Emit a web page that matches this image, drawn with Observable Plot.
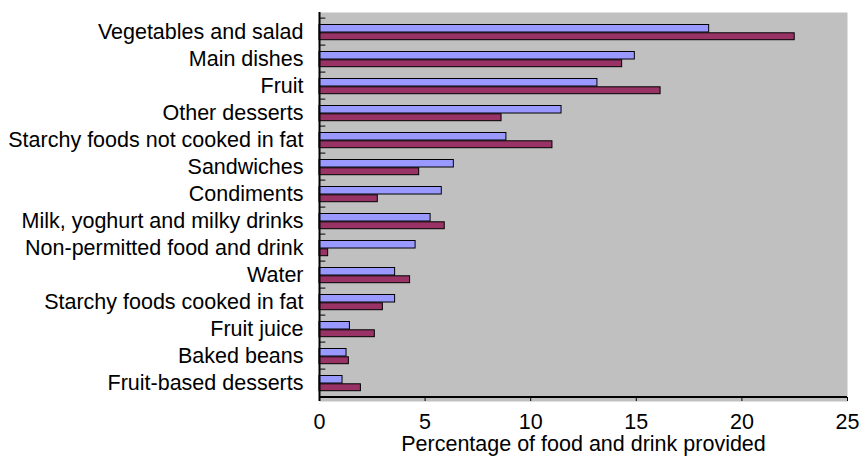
<!DOCTYPE html>
<html>
<head>
<meta charset="utf-8">
<script src="https://cdn.jsdelivr.net/npm/d3@7"></script>
<script src="https://cdn.jsdelivr.net/npm/@observablehq/plot@0.6"></script>
<style>
  html, body { margin: 0; padding: 0; background: #fff; }
  #chart svg { display: block; }
</style>
</head>
<body>
<div id="chart"></div>
<script>
const categories = [
  "Vegetables and salad",
  "Main dishes",
  "Fruit",
  "Other desserts",
  "Starchy foods not cooked in fat",
  "Sandwiches",
  "Condiments",
  "Milk, yoghurt and milky drinks",
  "Non-permitted food and drink",
  "Water",
  "Starchy foods cooked in fat",
  "Fruit juice",
  "Baked beans",
  "Fruit-based desserts"
];
const series1 = [18.45, 14.93, 13.16, 11.46, 8.85, 6.36, 5.79, 5.26, 4.55, 3.58, 3.58, 1.44, 1.28, 1.09];
const series2 = [22.5, 14.33, 16.15, 8.62, 11.03, 4.72, 2.76, 5.93, 0.41, 4.29, 3.0, 2.62, 1.39, 1.96];
const xTicks = [0, 5, 10, 15, 20, 25];

const rows1 = categories.map((c, i) => ({category: c, value: series1[i]}));
const rows2 = categories.map((c, i) => ({category: c, value: series2[i]}));

const bandH = (456 - 12 - 55) / categories.length;

const chart = Plot.plot({
  width: 859,
  height: 456,
  marginLeft: 319,
  marginRight: 12,
  marginTop: 12,
  marginBottom: 55,
  style: {fontFamily: "'Liberation Sans', Arial, sans-serif", fontSize: "21.5px", color: "#000", background: "#fff"},
  x: {domain: [0, 25]},
  y: {domain: categories, padding: 0},
  marks: [
    Plot.frame({fill: "#c0c0c0", stroke: "none"}),
    Plot.barX(rows1, {x: "value", y: "category", fill: "#9999ff", stroke: "#000", strokeWidth: 1, insetTop: 6.5, insetBottom: bandH - 14.8}),
    Plot.barX(rows2, {x: "value", y: "category", fill: "#993366", stroke: "#000", strokeWidth: 1, insetTop: 14.8, insetBottom: 5.3}),
    Plot.ruleY(categories, {y: d => d, x1: 0, x2: 0.3, dy: -bandH / 2, stroke: "#000"}),
    Plot.ruleY(categories.slice(-1), {y: d => d, dy: bandH / 2, stroke: "#000", strokeWidth: 2}),
    Plot.ruleX([0], {stroke: "#000", strokeWidth: 2}),
    Plot.axisY({tickSize: 0, tickPadding: 16, fontSize: 21.5, label: null}),
    Plot.axisX({ticks: xTicks, tickSize: -4, tickPadding: 16, fontSize: 21.5, tickFormat: d => String(d),
      label: "Percentage of food and drink provided", labelAnchor: "center", labelArrow: "none", labelOffset: 49.5})
  ]
});
document.getElementById("chart").appendChild(chart);
</script>
</body>
</html>
